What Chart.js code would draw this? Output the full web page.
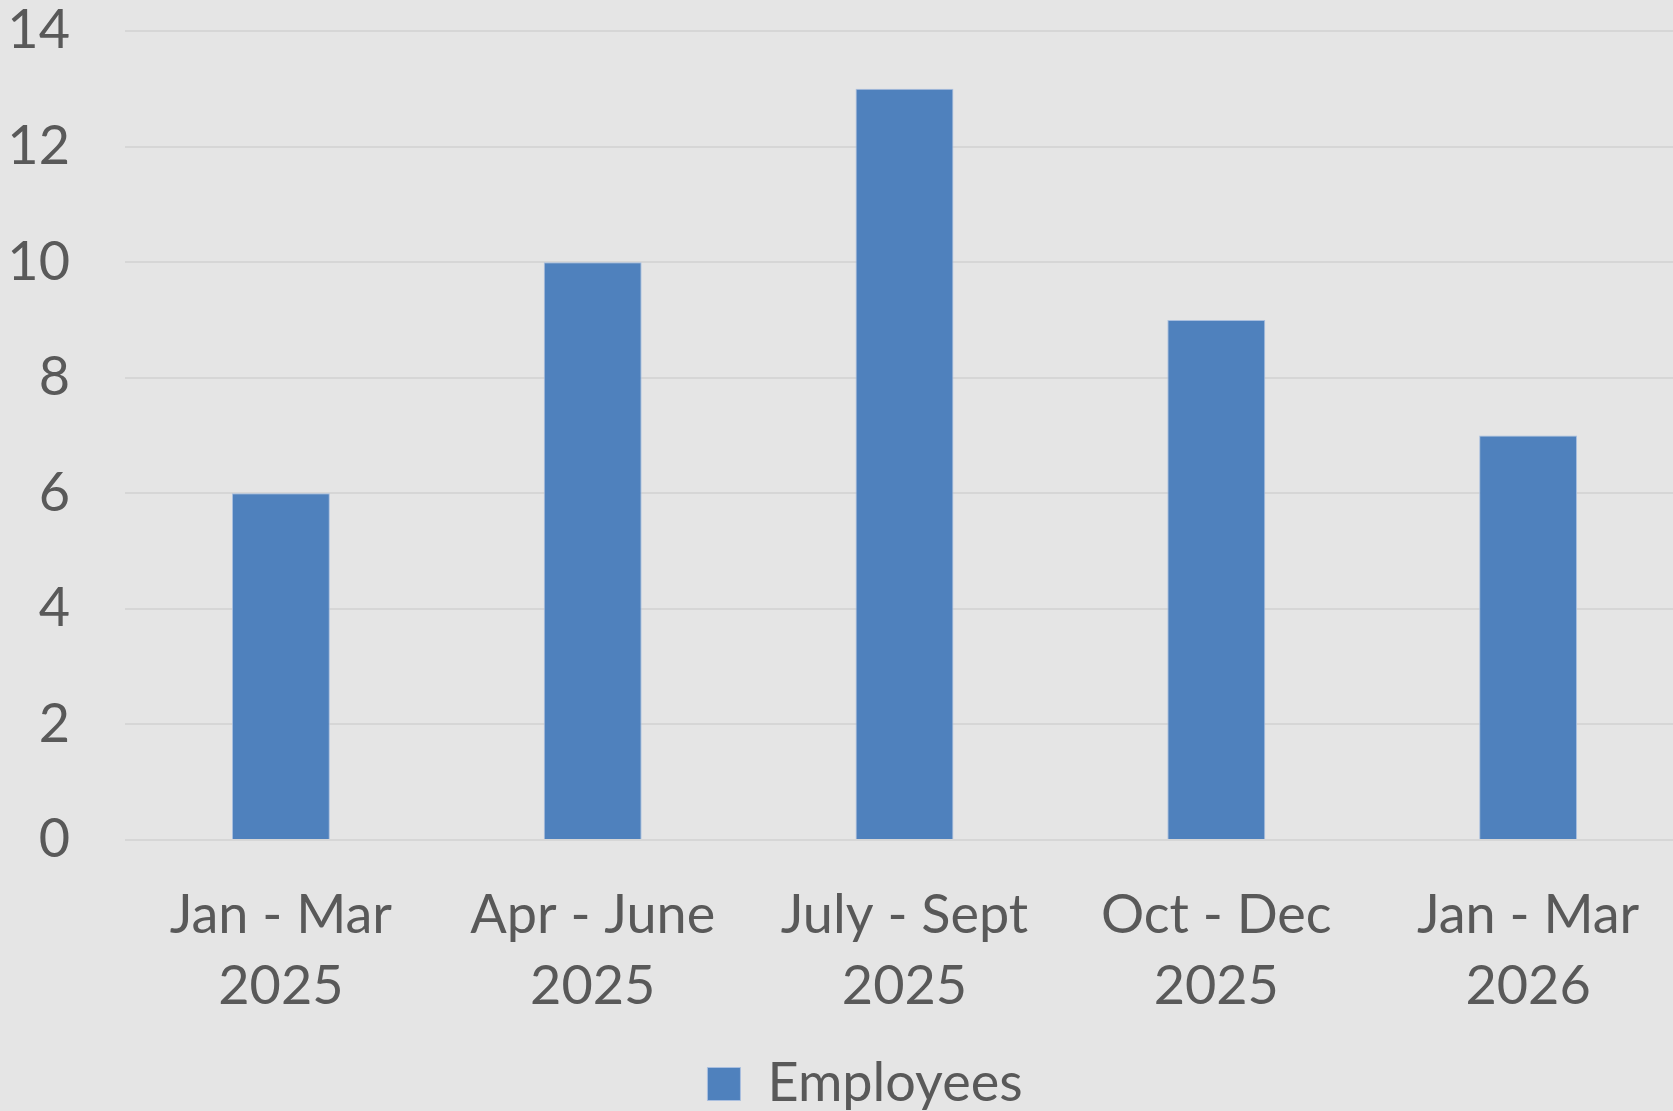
<!DOCTYPE html>
<html>
<head>
<meta charset="utf-8">
<script src="https://cdn.jsdelivr.net/npm/chart.js@4"></script>
<style>
  html, body { margin: 0; padding: 0; background: #e5e5e5; overflow: hidden; }
  #wrap { width: 1726px; height: 1111px; }
</style>
</head>
<body>
<div id="wrap"><canvas id="chart"></canvas></div>
<script>
const categories = [
  ["Jan - Mar", "2025"],
  ["Apr - June", "2025"],
  ["July - Sept", "2025"],
  ["Oct - Dec", "2025"],
  ["Jan - Mar", "2026"],
];
const employees = [6, 10, 13, 9, 7];
const seriesName = "Employees";

const textColor = "#595959";
const font = "Lato, 'Open Sans', sans-serif";

// nudge the legend a little right, like the original
const legendShift = {
  id: "legendShift",
  afterLayout(chart) {
    chart.legend.left += 18;
    chart.legend.right += 18;
  },
};

const ctx = document.getElementById("chart").getContext("2d");
new Chart(ctx, {
  type: "bar",
  data: {
    labels: categories,
    datasets: [{
      label: seriesName,
      data: employees,
      backgroundColor: "#4f81bd",
      borderColor: "#a9bfdf",
      borderWidth: 1,
      categoryPercentage: 1,
      barPercentage: 0.314,
    }],
  },
  plugins: [legendShift],
  options: {
    responsive: true,
    maintainAspectRatio: false,
    animation: false,
    layout: { padding: { top: 0, left: 10, right: 42, bottom: -10 } },
    scales: {
      x: {
        grid: { display: false },
        border: { display: false },
        ticks: {
          color: textColor,
          font: { family: font, size: 54, lineHeight: 1.32 },
          padding: 32,
          maxRotation: 0,
        },
        afterFit: (scale) => { scale.height = 207; },
      },
      y: {
        min: 0, max: 14,
        ticks: { stepSize: 2, color: textColor, font: { family: font, size: 54 }, padding: 55 },
        grid: { color: "#d6d6d6", lineWidth: 2, drawTicks: false },
        border: { display: false },
        afterFit: (scale) => {
          scale.width = 115;
          scale.paddingTop = 31;
          scale.paddingBottom = 0;
        },
      },
    },
    plugins: {
      legend: {
        position: "bottom",
        labels: {
          color: textColor,
          font: { family: font, size: 54 },
          boxWidth: 33, boxHeight: 33,
          padding: 10,
        },
      },
      tooltip: { enabled: false },
    },
  },
});
</script>
</body>
</html>
